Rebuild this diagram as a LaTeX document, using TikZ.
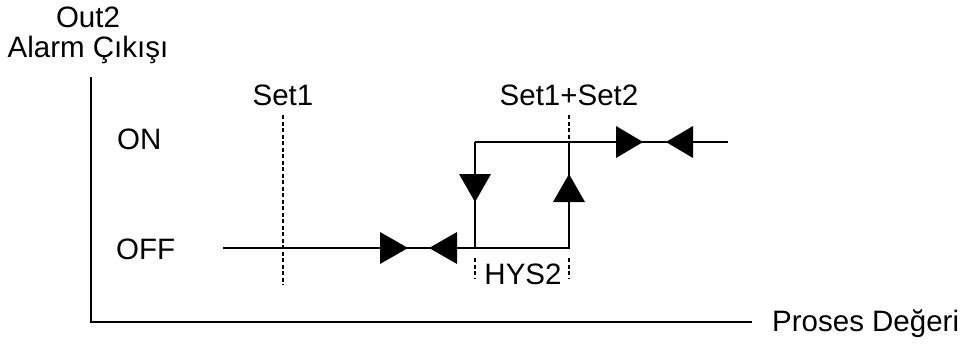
\documentclass[tikz,border=0pt]{standalone}
\usepackage{fontspec}
\setmainfont{Liberation Sans}
\begin{document}
\begin{tikzpicture}[x=1pt,y=-1pt,line join=miter,
	lbl/.style={font=\fontsize{29.5}{33}\selectfont,inner sep=0pt,anchor=base},
	sig/.style={line width=2.4pt},
	guide/.style={line width=1.6pt,dash pattern=on 4pt off 2.5pt},
	head/.style={fill=black}]
	\useasboundingbox (0,0) rectangle (962,345);
	% axes
	\coordinate (yax) at (91,77);
	\coordinate (org) at (91,322);
	\coordinate (xax) at (752,322);
	\draw[line width=2.6pt] (yax) -- (org) -- (xax);
	\node[lbl] (out) at (88,28) {Out2};
	\node[lbl] (alarm) at (88,58) {Alarm Çıkışı};
	\node[lbl,anchor=base west] (proses) at (772,331) {Proses Değeri};
	\node[lbl,anchor=base west] (on) at (117,149) {ON};
	\node[lbl,anchor=base west] (off) at (116,259) {OFF};
	% set points
	\node[lbl] (set1) at (283,106) {Set1};
	\node[lbl] (set12) at (569,106) {Set1+Set2};
	\node[lbl] (hys) at (523,284) {HYS2};
	\coordinate (s1a) at (283,115);
	\coordinate (s1b) at (283,285);
	\coordinate (s2a) at (569,115);
	\coordinate (s2b) at (569,140);
	\draw[guide] (s1a) -- (s1b);
	\draw[guide] (s2a) -- (s2b);
	\draw[guide] (475,258) -- (475,279);
	\draw[guide] (569,258) -- (569,279);
	% characteristic
	\coordinate (1) at (223,248);
	\coordinate (2) at (475,248);
	\coordinate (3) at (569,248);
	\coordinate (4) at (569,142);
	\coordinate (5) at (475,142);
	\coordinate (6) at (728,142);
	\draw[sig] (1) -- (2) -- (3) -- (4) -- (6);
	\draw[sig] (5) -- (2);
	\draw[sig] (5) -- (4);
	% heads
	\fill[head] (380,232) -- (408,248) -- (380,264) -- cycle;
	\fill[head] (457,232) -- (429,248) -- (457,264) -- cycle;
	\fill[head] (459,174) -- (475,202) -- (491,174) -- cycle;
	\fill[head] (553,202) -- (569,174) -- (585,202) -- cycle;
	\fill[head] (616,126) -- (643,142) -- (616,158) -- cycle;
	\fill[head] (693,126) -- (666,142) -- (693,158) -- cycle;
\end{tikzpicture}
\end{document}
